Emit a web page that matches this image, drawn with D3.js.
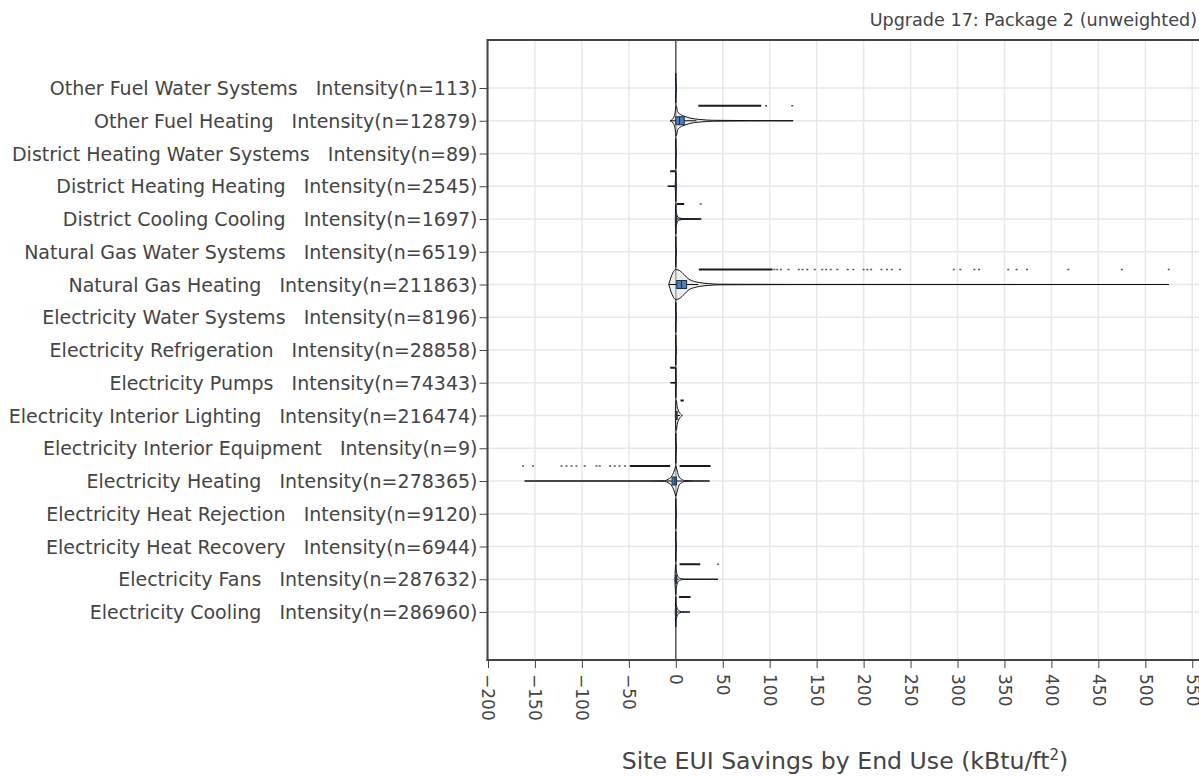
<!DOCTYPE html>
<html><head><meta charset="utf-8">
<script src="https://cdn.jsdelivr.net/npm/d3@7"></script>
<style>
body{margin:0;background:#fff}
text{font-family:"DejaVu Sans",Verdana,sans-serif;fill:#444}
</style></head><body>
<svg id="chart" width="1199" height="776"></svg>
<script>
const categories = [
  "Other Fuel Water Systems","Other Fuel Heating","District Heating Water Systems",
  "District Heating Heating","District Cooling Cooling","Natural Gas Water Systems",
  "Natural Gas Heating","Electricity Water Systems","Electricity Refrigeration",
  "Electricity Pumps","Electricity Interior Lighting","Electricity Interior Equipment",
  "Electricity Heating","Electricity Heat Rejection","Electricity Heat Recovery",
  "Electricity Fans","Electricity Cooling"];
const counts = [113,12879,89,2545,1697,6519,211863,8196,28858,74343,216474,9,278365,9120,6944,287632,286960];
const xTicks = [-200,-150,-100,-50,0,50,100,150,200,250,300,350,400,450,500,550];
const titleText = "Upgrade 17: Package 2 (unweighted)";

// box statistics
const q1       = [0, 0,   0,  -0.5, 0,   0, 1,    0, 0, -0.3, 0,   0, -4,  0, 0, 0,   0];
const median   = [0, 4,   0,   0,   0.3, 0, 6,    0, 0,  0,   0.5, 0, -1,  0, 0, 0.3, 0.2];
const q3       = [0.2, 9, 0.2, 0,   1,   0.2, 11.5, 0.2, 0.2, 0, 1.5, 0.2, 0.7, 0.2, 0.2, 1, 0.8];
const whiskerLo= [0, -6,  0,  -8.5, 0,   0, -7.5, 0, 0, -5.5, -0.5, 0, -10, 0, 0, -1, -0.5];
const whiskerHi= [0.3, 22, 0.3, 0.5, 27, 0.3, 24, 0.3, 0.3, 0.3, 4.5, 0.3, 7, 0.3, 0.3, 3, 3];

// violin density profiles (value, relative half-width)
const densityX = [
  [-0.3,0,0.3],
  [-6,-3,-1,0.5,2,5,10,15,25,40,80,125],
  [-0.3,0,0.3],
  [-8.5,-0.5,0,0.5],
  [-0.5,0,0.5,1.5,4,10,27],
  [-0.3,0,0.3],
  [-7.5,-5,-3,0,4,9,14,20,25,35,46,120,525],
  [-0.3,0,0.3],
  [-0.3,0,0.3],
  [-5.5,-0.5,0,0.4],
  [-0.5,0,0.5,1.5,3,5,7],
  [-0.3,0,0.3],
  [-161,-40,-12,-8,-4,-1,0,1,3,6,9,20,36],
  [-0.3,0,0.3],
  [-0.3,0,0.3],
  [-1,0,0.5,1.5,3,5,10,45],
  [-0.5,0,0.5,1.5,3,6,15]
];
const densityW = [
  [0,1,0],
  [0,0.15,0.45,1,0.6,0.42,0.28,0.18,0.09,0.03,0.01,0],
  [0,1,0],
  [0,0.03,1,0],
  [0,1,0.5,0.2,0.06,0.02,0],
  [0,1,0],
  [0,0.5,0.8,1,0.93,0.65,0.35,0.2,0.13,0.06,0.02,0.005,0],
  [0,1,0],
  [0,1,0],
  [0,0.03,1,0],
  [0,0.9,1,0.6,0.3,0.1,0],
  [0,1,0],
  [0,0.003,0.02,0.12,0.35,0.8,1,0.8,0.35,0.12,0.03,0.01,0],
  [0,1,0],
  [0,1,0],
  [0,1,0.6,0.3,0.12,0.05,0.01,0],
  [0,1,0.5,0.25,0.1,0.02,0]
];

// outliers: dense runs [start,end] and individual points
const outlierRuns = [
  [], [[24,91]], [], [[-6,-0.5]], [[1,9]], [], [[24.5,103]], [], [],
  [[-6,-0.5]], [[5,8.5]], [], [[-49,-6],[4,37]], [], [], [[4,26]], [[3.5,15.7]]
];
const outlierPoints = [
  [], [96,124], [], [], [26.5], [],
  [105,108,112,120,131,135,140,148,156,160,165,172,183,189,200,204,208,219,225,230,239,296,303,318,323,354,363,374,418,475,525],
  [], [], [], [], [],
  [-162.6,-152,-121.7,-116.4,-111,-105.8,-97,-84.5,-81,-70,-65,-60,-54],
  [], [], [45], []
];

const svg = d3.select("#chart");
const W = 1199, H = 776;
const plotL = 487.5, plotT = 40, plotB = 660;
const FONT = '"DejaVu Sans",Verdana,sans-serif';

const x = d3.scaleLinear().domain([-200, 560]).range([488, 488 + 760 * 0.939]);
const y = d3.scalePoint().domain(d3.range(categories.length)).range([88, 612]);
const plotR = x.range()[1] + 5;

svg.append("rect").attr("width", W).attr("height", H).attr("fill", "#fff");

// gridlines
const grid = svg.append("g");
grid.selectAll("line.vx").data(xTicks).join("line")
  .attr("x1", d => x(d)).attr("x2", d => x(d))
  .attr("y1", plotT).attr("y2", plotB)
  .attr("stroke", "#e8e8e8").attr("stroke-width", 1.5);
grid.selectAll("line.hy").data(d3.range(categories.length)).join("line")
  .attr("x1", plotL).attr("x2", plotR)
  .attr("y1", d => y(d)).attr("y2", d => y(d))
  .attr("stroke", "#e8e8e8").attr("stroke-width", 1.5);

// zero line
svg.append("line").attr("x1", x(0)).attr("x2", x(0)).attr("y1", plotT).attr("y2", plotB)
  .attr("stroke", "#444").attr("stroke-width", 1.3);

const halfH = 15, boxH = 4, ptOff = 15;

const area = d3.area()
  .x(d => x(d[0]))
  .y0((d) => -d[1] * halfH)
  .y1((d) => d[1] * halfH)
  .curve(d3.curveMonotoneX);

const rows = svg.append("g").selectAll("g").data(d3.range(categories.length)).join("g")
  .attr("transform", i => `translate(0,${y(i)})`);

rows.append("path")
  .attr("d", i => area(densityX[i].map((v, k) => [v, densityW[i][k]])))
  .attr("fill", "rgba(225,225,225,0.55)")
  .attr("stroke", "#111").attr("stroke-width", 1);

rows.append("line")
  .attr("x1", i => x(whiskerLo[i])).attr("x2", i => x(whiskerHi[i]))
  .attr("y1", 0).attr("y2", 0).attr("stroke", "#111").attr("stroke-width", 1);

rows.append("rect")
  .attr("x", i => x(q1[i])).attr("width", i => Math.max(0.5, x(q3[i]) - x(q1[i])))
  .attr("y", -boxH).attr("height", 2 * boxH)
  .attr("fill", "#4f7fb5").attr("stroke", "#1c2f48").attr("stroke-width", 1);

rows.append("line")
  .attr("x1", i => x(median[i])).attr("x2", i => x(median[i]))
  .attr("y1", -boxH).attr("y2", boxH).attr("stroke", "#1c2f48").attr("stroke-width", 1);

rows.each(function(i) {
  const g = d3.select(this);
  g.selectAll("line.run").data(outlierRuns[i]).join("line")
    .attr("x1", d => x(d[0])).attr("x2", d => x(d[1]))
    .attr("y1", -ptOff).attr("y2", -ptOff)
    .attr("stroke", "#1a1a1a").attr("stroke-width", 2);
  g.selectAll("rect.pt").data(outlierPoints[i]).join("rect")
    .attr("x", d => x(d) - 1).attr("width", 2)
    .attr("y", -ptOff - 0.75).attr("height", 1.5)
    .attr("fill", "#555");
});

// frame lines
svg.append("line").attr("x1", plotL).attr("x2", W + 5).attr("y1", plotT).attr("y2", plotT)
  .attr("stroke", "#444").attr("stroke-width", 2);
svg.append("line").attr("x1", plotL).attr("x2", plotL).attr("y1", plotT - 1).attr("y2", plotB + 1)
  .attr("stroke", "#444").attr("stroke-width", 2);
svg.append("line").attr("x1", plotL - 1).attr("x2", W + 5).attr("y1", plotB).attr("y2", plotB)
  .attr("stroke", "#444").attr("stroke-width", 2);

// x axis
const xAxis = svg.append("g").attr("transform", `translate(0,${plotB})`)
  .call(d3.axisBottom(x).tickValues(xTicks).tickSize(8).tickSizeOuter(0));
xAxis.select(".domain").remove();
xAxis.selectAll(".tick line").attr("stroke", "#444").attr("stroke-width", 1);
xAxis.selectAll(".tick text")
  .attr("transform", "rotate(90)")
  .attr("x", 14).attr("y", 0).attr("dy", "0.36em")
  .attr("text-anchor", "start")
  .style("font-size", "17px").style("font-family", FONT).attr("fill", "#444");

// y axis
const yAxis = svg.append("g").attr("transform", `translate(${plotL},0)`)
  .call(d3.axisLeft(y).tickSize(8).tickSizeOuter(0)
    .tickFormat(i => `${categories[i]}   Intensity(n=${counts[i]})`));
yAxis.select(".domain").remove();
yAxis.selectAll(".tick line").attr("stroke", "#444").attr("stroke-width", 1);
yAxis.selectAll(".tick text")
  .attr("x", -10).attr("dy", "0.35em")
  .style("white-space", "pre")
  .style("font-size", "19px").style("font-family", FONT).attr("fill", "#444");

// title
svg.append("text").attr("x", 1197).attr("y", 26).attr("text-anchor", "end")
  .style("font-size", "17.6px").text(titleText);

// x axis title
const xt = svg.append("text").attr("x", 845).attr("y", 769).attr("text-anchor", "middle")
  .style("font-size", "23.6px");
xt.append("tspan").text("Site EUI Savings by End Use (kBtu/ft");
xt.append("tspan").attr("dy", -9).style("font-size", "15px").text("2");
xt.append("tspan").attr("dy", 9).text(")");
</script>
</body></html>
